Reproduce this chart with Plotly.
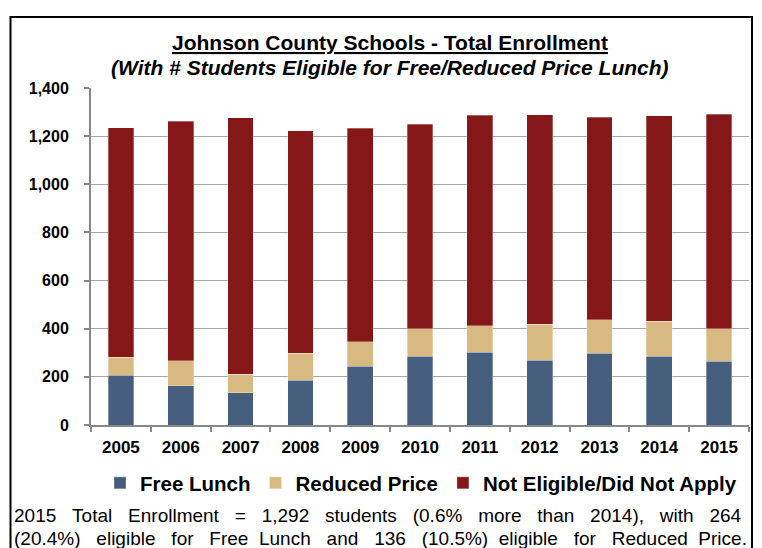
import plotly.graph_objects as go

years = ["2005", "2006", "2007", "2008", "2009", "2010", "2011", "2012", "2013", "2014", "2015"]
free_lunch = [207, 163, 134, 185, 244, 286, 303, 268, 298, 285, 264]
reduced_price = [74, 103, 77, 113, 101, 113, 110, 151, 140, 145, 136]
not_eligible = [954, 996, 1065, 925, 888, 850, 873, 870, 841, 854, 892]

series_names = ["Free Lunch", "Reduced Price", "Not Eligible/Did Not Apply"]
series_colors = ["#455e7e", "#d9b982", "#861719"]

title_text = "<b><u>Johnson County Schools - Total Enrollment</u></b>"
subtitle_text = "<b><i>(With # Students Eligible for Free/Reduced Price Lunch)</i></b>"
note_line1_words = ["2015", "Total", "Enrollment", "=", "1,292", "students", "(0.6%",
                    "more", "than", "2014),", "with", "264"]
note_line2_words = ["(20.4%)", "eligible", "for", "Free", "Lunch", "and", "136",
                    "(10.5%)", "eligible", "for", "Reduced", "Price."]

FONT = "Liberation Sans, Arial, sans-serif"
OFF = 8  # page body margin
W, H = 762 - OFF, 548 - OFF
# plot area in page pixels: x 91..749, y 88..425
L, R, T, B = 91 - OFF, 762 - 749, 88 - OFF, 548 - 425
PW, PH = W - L - R, H - T - B


def px(x):
    return (x - OFF - L) / PW


def py(y):
    return (H - B - (y - OFF)) / PH


NB = "\u00a0"
line1 = (NB * 3).join(note_line1_words)
gaps2 = [3, 3, 3, 2, 3, 3, 3, 2, 3, 3, 2]
line2 = note_line2_words[0]
for g, w in zip(gaps2, note_line2_words[1:]):
    line2 += NB * g + w

fig = go.Figure()
for name, vals, col in zip(series_names, [free_lunch, reduced_price, not_eligible], series_colors):
    fig.add_trace(go.Bar(
        x=years, y=vals, name=name,
        marker=dict(color=col, line=dict(color="rgba(255,255,255,0.5)", width=0.6)),
    ))

fig.update_layout(
    width=W, height=H,
    margin=dict(l=L, r=R, t=T, b=B),
    barmode="stack", bargap=0.57,
    plot_bgcolor="white", paper_bgcolor="white",
    font=dict(family=FONT, color="black"),
    showlegend=True,
    legend=dict(
        orientation="h", x=px(421), xanchor="center", y=py(483), yanchor="middle",
        font=dict(size=20.5, family=FONT, weight="bold"),
        traceorder="normal", itemwidth=30,
    ),
    xaxis=dict(
        type="category", showline=True, linecolor="#888888", linewidth=2,
        ticks="outside", tickson="boundaries", ticklen=5, tickcolor="#888888", tickwidth=2,
        tickfont=dict(size=17, family=FONT, weight="bold"), ticklabelstandoff=6,
        showgrid=False,
    ),
    yaxis=dict(
        range=[0, 1400], dtick=200, tickformat=",",
        showline=True, linecolor="#888888", linewidth=2,
        ticks="outside", ticklen=5, tickcolor="#888888", tickwidth=2,
        gridcolor="#a6a6a6", gridwidth=1,
        tickfont=dict(size=16, family=FONT, weight="bold"), ticklabelstandoff=12,
        zeroline=False,
    ),
    annotations=[
        dict(text=title_text, x=px(390), y=py(43), xref="paper", yref="paper",
             xanchor="center", yanchor="middle", showarrow=False,
             font=dict(size=21, family=FONT)),
        dict(text=subtitle_text, x=px(390), y=py(68), xref="paper", yref="paper",
             xanchor="center", yanchor="middle", showarrow=False,
             font=dict(size=21, family=FONT)),
        dict(text=line1, x=px(12), y=py(516), xref="paper", yref="paper",
             xanchor="left", yanchor="middle", showarrow=False,
             font=dict(size=19, family=FONT)),
        dict(text=line2, x=px(12), y=py(538), xref="paper", yref="paper",
             xanchor="left", yanchor="middle", showarrow=False,
             font=dict(size=19, family=FONT)),
    ],
    shapes=[
        dict(type="rect", xref="paper", yref="paper",
             x0=px(10.5), x1=px(752), y0=py(600), y1=py(17),
             line=dict(color="black", width=2), fillcolor="rgba(0,0,0,0)", layer="above"),
    ],
)

fig.write_html("out.html")
